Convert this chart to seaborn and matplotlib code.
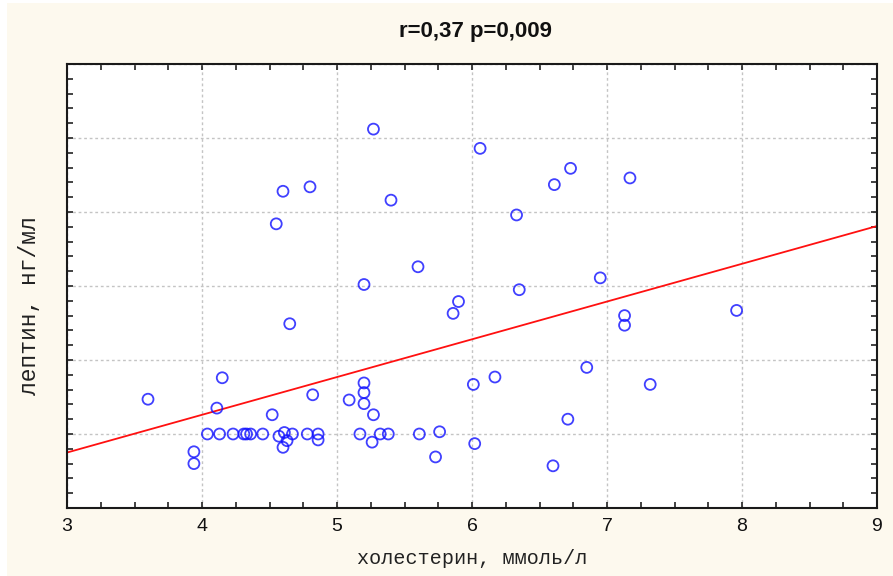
import numpy as np
import pandas as pd
import matplotlib
matplotlib.use("Agg")
import matplotlib.pyplot as plt
import seaborn as sns
from matplotlib.patches import Rectangle
from matplotlib.ticker import MultipleLocator, NullFormatter

# --- data ---
cholesterol = [3.60, 3.94, 3.94, 4.15, 4.11, 4.04, 4.13, 4.23, 4.31, 4.33,
               4.36, 4.45, 4.52, 4.57, 4.61, 4.63, 4.60, 4.67, 4.78, 4.86,
               4.86, 4.82, 5.09, 5.17, 5.20, 5.20, 5.20, 5.27, 5.26, 5.32,
               5.38, 5.61, 5.76, 5.73, 5.27, 5.40, 5.20, 5.60, 5.90, 5.86,
               6.06, 6.33, 6.35, 6.61, 6.73, 6.95, 7.17, 6.01, 6.17, 6.85,
               7.32, 6.71, 6.02, 6.60, 7.13, 7.13, 7.96, 4.60, 4.80, 4.55,
               4.65]
leptin = [14.7, 7.6, 6.0, 17.6, 13.5, 10.0, 10.0, 10.0, 10.0, 10.0,
          10.0, 10.0, 12.6, 9.7, 10.2, 9.1, 8.2, 10.0, 10.0, 10.0,
          9.2, 15.3, 14.6, 10.0, 16.9, 15.6, 14.1, 12.6, 8.9, 10.0,
          10.0, 10.0, 10.3, 6.9, 51.2, 41.6, 30.2, 32.6, 27.9, 26.3,
          48.6, 39.6, 29.5, 43.7, 45.9, 31.1, 44.6, 16.7, 17.7, 19.0,
          16.7, 12.0, 8.7, 5.7, 26.0, 24.7, 26.7, 42.8, 43.4, 38.4,
          24.9]
x_ticks = [3, 4, 5, 6, 7, 8, 9]
title = "r=0,37 p=0,009"
x_label = "холестерин, ммоль/л"
y_label = "лептин, нг/мл"

df = pd.DataFrame({"chol": cholesterol, "leptin": leptin})

sns.set_theme(style="white")
plt.rcParams["font.family"] = ["Liberation Sans", "DejaVu Sans"]

cream = "#FDF9EE"
fig = plt.figure(figsize=(8.93, 5.76), dpi=100)
fig.patch.set_facecolor("white")
fig.patches.append(Rectangle((7 / 893, 0), 1 - 7 / 893, 1 - 3 / 576,
                             transform=fig.transFigure, facecolor=cream,
                             edgecolor="none", zorder=-10))
ax = fig.add_axes([67 / 893, 1 - 508 / 576, 810 / 893, 444 / 576])
ax.set_facecolor("white")
ax.set_xlim(3, 9)
ax.set_ylim(0, 60)

sns.regplot(data=df, x="chol", y="leptin", ax=ax, ci=None, truncate=False,
            marker="o",
            scatter_kws=dict(s=62, facecolors="none", edgecolors="#1010FF",
                             linewidths=1.3, zorder=3),
            line_kws=dict(color="#FF1010", lw=1.3, zorder=2))

ax.set_xlim(3, 9)
ax.set_ylim(0, 60)
ax.xaxis.set_major_locator(MultipleLocator(1))
ax.xaxis.set_minor_locator(MultipleLocator(0.25))
ax.yaxis.set_major_locator(MultipleLocator(10))
ax.yaxis.set_minor_locator(MultipleLocator(2))
ax.set_xticks(x_ticks)
ax.set_xticklabels([str(t) for t in x_ticks], fontsize=14, color="#111111")
ax.yaxis.set_major_formatter(NullFormatter())
ax.tick_params(which="both", direction="in", top=True, right=True,
               bottom=True, left=True, length=4, width=1.2, color="#222222")
ax.tick_params(axis="x", which="major", pad=7)
ax.grid(True, which="major", linestyle=(0, (2, 2)), color="#C4C4C4", lw=1)
for s in ax.spines.values():
    s.set_color("#1a1a1a")
    s.set_linewidth(1.5)
    s.set_visible(True)

ax.set_xlabel(x_label, family=["Liberation Mono", "DejaVu Sans Mono"],
              fontsize=14.5, color="#222222", labelpad=10)
ax.set_ylabel(y_label, family=["Liberation Mono", "DejaVu Sans Mono"],
              fontsize=16.5, color="#222222")
ax.yaxis.set_label_coords(-0.032, 0.455)

fig.text(475.5 / 893, 1 - 32 / 576, title, fontsize=16, fontweight="bold",
         ha="center", va="center", color="#111111")

fig.savefig("out.png", dpi=100, facecolor=fig.get_facecolor())
